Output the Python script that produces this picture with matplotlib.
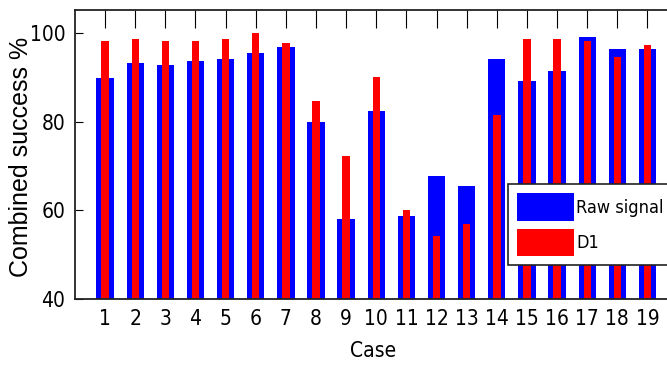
import numpy as np
import matplotlib
matplotlib.use("Agg")
import matplotlib.pyplot as plt

cases = list(range(1, 20))
raw_signal = [90.0, 93.3, 92.8, 93.7, 94.2, 95.6, 96.9, 80.1, 58.0, 82.4,
              58.8, 67.9, 65.6, 94.2, 89.2, 91.5, 99.2, 96.4, 96.4]
d1 = [98.3, 98.7, 98.3, 98.3, 98.7, 100.0, 97.8, 84.8, 72.4, 90.1,
      60.2, 54.3, 57.0, 81.5, 98.7, 98.7, 98.2, 94.6, 97.4]
yticks = [40, 60, 80, 100]

# condensed face to mimic the squeezed matlab export
plt.rcParams['font.family'] = ['DejaVu Sans']
plt.rcParams['font.stretch'] = 'condensed'

fig = plt.figure(figsize=(6.67, 3.65), dpi=100)
ax = fig.add_axes([0.1124, 0.1808, 0.9035, 0.7918])

x = np.array(cases)
ax.bar(x, raw_signal, width=0.575, color='#0000ff', label='Raw signal', zorder=2)
ax.bar(x, d1, width=0.245, color='#ff0000', label='D1', zorder=3)

ax.set_xlim(0, 20)
ax.set_ylim(40, 105.3)
ax.set_xticks(cases)
ax.set_yticks(yticks)

ax.tick_params(axis='x', direction='in', pad=7, labelsize=15,
               top=True, bottom=False, length=12.7)
ax.tick_params(axis='y', direction='in', length=6, pad=7, labelsize=15, right=False)
for sp in ax.spines.values():
    sp.set_linewidth(1.3)
    sp.set_color('#222222')
    sp.set_zorder(4)

ax.set_xlabel('Case', fontsize=15, va='center')
ax.xaxis.set_label_coords(0.4945, -0.18)
ax.set_ylabel('Combined success %', fontsize=18, va='center', stretch='normal',
              family=['Liberation Sans', 'DejaVu Sans'])
ax.yaxis.set_label_coords(-0.0896, 0.491)

leg = ax.legend(loc='lower left', bbox_to_anchor=(0.7185, 0.1176), borderaxespad=0,
                fontsize=13, fancybox=False, framealpha=1, edgecolor='#222222',
                handlelength=3.15, handleheight=1.95, labelspacing=0.45,
                borderpad=0.5, handletextpad=0.12)
leg.get_frame().set_linewidth(1.2)
leg.set_zorder(5)

fig.savefig('out.png', dpi=100)
